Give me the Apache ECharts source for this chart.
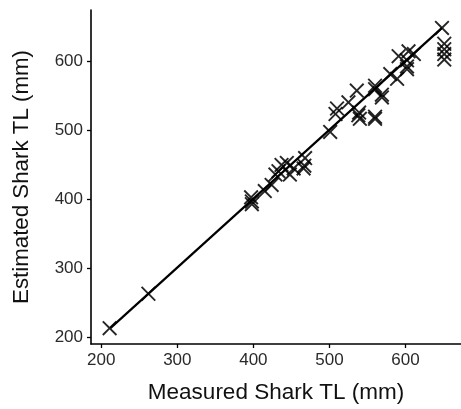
<!DOCTYPE html>
<html>
<head>
<meta charset="utf-8">
<script src="https://cdn.jsdelivr.net/npm/echarts@6/dist/echarts.min.js"></script>
<style>html,body{margin:0;padding:0;background:#fff}#c{width:461px;height:409px}</style>
</head>
<body>
<div id="c"></div>
<script>
const measured  = [211, 262, 397, 398, 398, 415, 424, 429, 433, 437, 444, 448, 453, 468, 466, 467, 501, 508, 510, 525, 536, 538, 539, 540, 560, 560, 560, 560, 569, 569, 580, 589, 591, 602, 602, 602, 604, 611, 648, 651, 651, 651, 651];
const estimated = [213, 263, 403, 393, 397, 412, 421, 436, 441, 450, 453, 436, 445, 460, 445, 449, 498, 524, 532, 541, 558, 522, 526, 517, 517, 520, 565, 560, 548, 552, 582, 575, 608, 589, 593, 602, 615, 611, 649, 626, 618, 611, 603];
const fitX = [212, 648];
const fitY = [213, 649];
const xTicks = [200, 300, 400, 500, 600];
const yTicks = [200, 300, 400, 500, 600];

const points = measured.map((m, i) => [m, estimated[i]]);
const fit = fitX.map((x, i) => [x, fitY[i]]);
const xSym = 'path://M0,1.8L1.8,0L10,8.2L18.2,0L20,1.8L11.8,10L20,18.2L18.2,20L10,11.8L1.8,20L0,18.2L8.2,10Z';
const font = 'Liberation Sans, Arial, Helvetica, sans-serif';

const chart = echarts.init(document.getElementById('c'), null, {renderer: 'canvas'});
chart.setOption({
  animation: false,
  backgroundColor: '#fff',
  grid: {left: 91, right: 0, top: 10, bottom: 61, containLabel: false},
  xAxis: {
    type: 'value', min: 186.5, max: 673,
    name: 'Measured Shark TL (mm)', nameLocation: 'middle', nameGap: 37,
    nameTextStyle: {color: '#111', fontSize: 22.5, fontFamily: font},
    axisLine: {show: true, lineStyle: {color: '#000', width: 1.6}},
    axisTick: {show: true, length: 4, lineStyle: {color: '#000', width: 1.3}, customValues: xTicks},
    axisLabel: {color: '#2a2a2a', fontSize: 17, fontFamily: font, margin: 8, customValues: xTicks},
    splitLine: {show: false}
  },
  yAxis: {
    type: 'value', min: 190, max: 675,
    name: 'Estimated Shark TL (mm)', nameLocation: 'middle', nameGap: 58,
    nameTextStyle: {color: '#111', fontSize: 22.3, fontFamily: font},
    axisLine: {show: true, lineStyle: {color: '#000', width: 1.6}},
    axisTick: {show: true, length: 4, lineStyle: {color: '#000', width: 1.3}, customValues: yTicks},
    axisLabel: {color: '#2a2a2a', fontSize: 17, fontFamily: font, margin: 8, customValues: yTicks},
    splitLine: {show: false}
  },
  series: [
    {
      type: 'line', data: fit, symbol: 'none',
      lineStyle: {color: '#000', width: 2.2}, z: 3
    },
    {
      type: 'scatter', data: points, symbol: xSym, symbolSize: 15,
      itemStyle: {color: '#000', opacity: 0.85}, z: 4
    }
  ]
});
</script>
</body>
</html>
